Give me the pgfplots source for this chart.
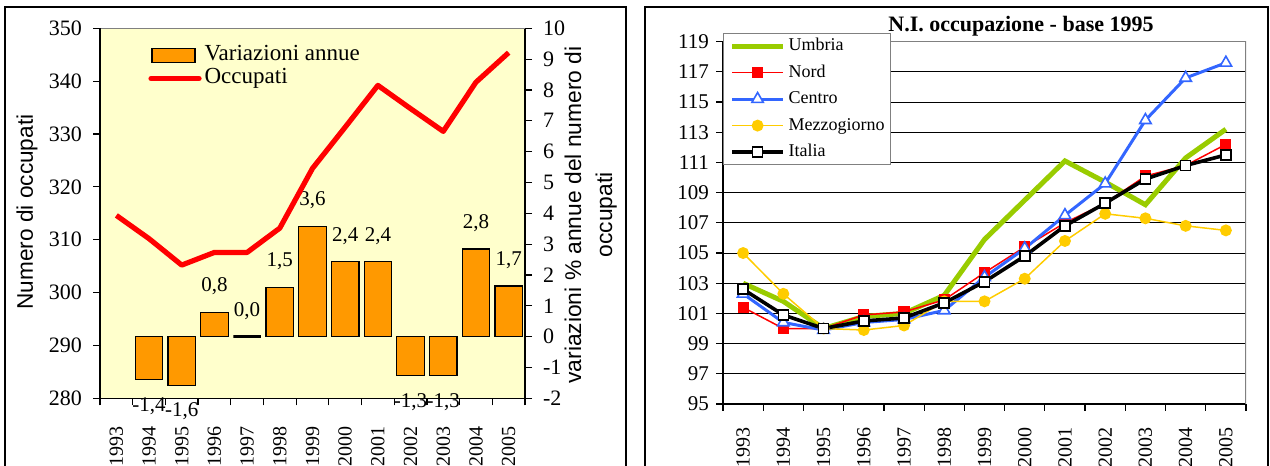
\documentclass[border=0pt]{standalone}
\usepackage{fontspec}
\setmainfont{Liberation Serif}
\setsansfont{Liberation Sans}
\usepackage{pgfplots}
\usepackage{pgfplotstable}
\pgfplotsset{compat=1.18}

\definecolor{bgyellow}{HTML}{FFFFCC}
\definecolor{barorange}{HTML}{FF9900}
\definecolor{umbria}{HTML}{99CC00}
\definecolor{nord}{HTML}{FF0000}
\definecolor{centro}{HTML}{3366FF}
\definecolor{mezzo}{HTML}{FFCC00}
\definecolor{bordergray}{HTML}{808080}

% occupati (migliaia), asse di sinistra
\pgfplotstableread{
x occ
0 314.6
1 310.2
2 305.2
3 307.6
4 307.6
5 312.2
6 323.5
7 331.3
8 339.2
9 334.8
10 330.5
11 339.8
12 345.4
}\occupati

% variazioni annue %, asse di destra (positive, nulle, negative)
\pgfplotstableread{
x var lab
3 0.79 0,8
5 1.59 1,5
6 3.57 3,6
7 2.43 2,4
8 2.43 2,4
11 2.84 2,8
12 1.64 1,7
}\varpos
\pgfplotstableread{
x var lab
4 0.0 0,0
}\varzero
\pgfplotstableread{
x var lab
1 -1.40 -1,4
2 -1.58 -1,6
9 -1.27 -1,3
10 -1.27 -1,3
}\varneg

% numeri indice, base 1995
\pgfplotstableread{
x umbria nord centro mezzo italia
0 103.0 101.4 102.3 105.0 102.6
1 101.8 100.0 100.4 102.3 100.9
2 100.0 100.0 99.9 100.0 100.0
3 100.8 100.9 100.4 99.9 100.5
4 101.0 101.1 100.6 100.2 100.7
5 102.2 101.9 101.2 101.8 101.7
6 105.9 103.7 103.4 101.8 103.1
7 108.5 105.4 105.3 103.3 104.8
8 111.1 107.0 107.5 105.8 106.8
9 109.7 108.3 109.6 107.6 108.3
10 108.2 110.1 113.8 107.3 109.9
11 111.3 110.8 116.6 106.8 110.8
12 113.2 112.2 117.6 106.5 111.5
}\indici

\pgfplotsset{
  yearaxis/.style={
    scale only axis,
    xmin=-0.5, xmax=12.5,
    xtick={-0.5,0.5,...,12.5},
    x tick label as interval,
    xticklabels={1993,1994,1995,1996,1997,1998,1999,2000,2001,2002,2003,2004,2005},
    xticklabel style={rotate=90, anchor=east, inner sep=0pt, font=\fontsize{10}{12}\selectfont},
    tick align=outside,
    major tick length=3.5pt,
    tick style={black, line width=0.6pt},
    axis line style={black, line width=0.6pt},
    /pgf/number format/assume math mode=true,
  },
  barstyle/.style={ybar, bar width=13.75pt, fill=barorange, draw=black, line width=0.6pt,
    nodes near coords, point meta=explicit symbolic,
    every node near coord/.append style={font=\fontsize{10.5}{12}\selectfont,
      inner xsep=0pt, inner ysep=8.7pt, black, line width=0pt}},
  boxlegend/.style={legend image code/.code={\draw[##1] (0pt,-3.5pt) rectangle (21.5pt,3.5pt);}},
  linelegend/.style={legend image code/.code={\draw[##1, line cap=round] (-0.5pt,0pt) -- (23.5pt,0pt);}},
}

\begin{document}
\begin{tikzpicture}
\clip (0,0) rectangle (635pt,233pt);
% cornici dei due pannelli
\draw[black, line width=0.8pt] (2.5pt,-5pt) rectangle (313pt,229.5pt);
\draw[black, line width=0.8pt] (322.5pt,-5pt) rectangle (634pt,229.5pt);

% ---- pannello sinistro: barre (asse destro) ----
\begin{axis}[
  yearaxis,
  at={(50pt,33.85pt)}, anchor=south west,
  width=212.5pt, height=185pt,
  ymin=-2, ymax=10,
  ytick={-2,-1,...,10},
  axis x line*=bottom, axis y line*=right,
  axis background/.style={fill=bgyellow},
  yticklabel style={font=\fontsize{11}{13}\selectfont},
  yticklabel shift=2pt,
  xticklabel shift=10.5pt,
  clip=false,
]
\addplot[barstyle, every node near coord/.append style={anchor=south}]
  table[x=x, y=var, meta=lab] {\varpos};
\addplot[barstyle, line width=1.5pt, every node near coord/.append style={anchor=south}]
  table[x=x, y=var, meta=lab] {\varzero};
\addplot[barstyle, every node near coord/.append style={anchor=north}]
  table[x=x, y=var, meta=lab] {\varneg};
\draw[bordergray, line width=0.5pt] (rel axis cs:0,1) -- (rel axis cs:1,1);
\end{axis}

% ---- pannello sinistro: occupati (asse sinistro) ----
\begin{axis}[
  yearaxis,
  at={(50pt,33.85pt)}, anchor=south west,
  width=212.5pt, height=185pt,
  ymin=280, ymax=350,
  ytick={280,290,...,350},
  axis x line=none, axis y line*=left,
  yticklabel style={font=\fontsize{11}{13}\selectfont},
  yticklabel shift=2pt,
  legend style={at={(rel axis cs:0.113,0.957)}, anchor=north west, draw=none, fill=none,
    font=\fontsize{11.5}{13}\selectfont, inner sep=0pt, row sep=0.5pt, column sep=1.5pt,
    nodes={inner sep=0pt, text height=8pt, text depth=3pt}},
  legend cell align=left,
]
\addlegendimage{fill=barorange, draw=black, line width=0.6pt, boxlegend}
\addlegendentry{Variazioni annue}
\addplot[nord, line width=2.6pt, line join=round, linelegend]
  table[x=x, y=occ] {\occupati};
\addlegendentry{Occupati}
\end{axis}

\node[rotate=90, font=\sffamily\fontsize{11.3}{13}\selectfont] at (13.5pt,127pt) {Numero di occupati};
\node[rotate=90, align=center, font=\sffamily\fontsize{11.4}{15.5}\selectfont] at (295.4pt,125.5pt)
  {variazioni \% annue del numero di\\occupati};

% ---- pannello destro: numeri indice ----
\begin{axis}[
  yearaxis,
  at={(361.5pt,31pt)}, anchor=south west,
  width=261.5pt, height=181.15pt,
  ymin=95, ymax=119,
  ytick={95,97,...,119},
  axis x line*=bottom, axis y line*=left,
  ymajorgrids, grid style={black, line width=0.5pt},
  yticklabel style={font=\fontsize{10.5}{12}\selectfont},
  xticklabel shift=8pt,
  legend style={at={(rel axis cs:0,1.024)}, anchor=north west, draw=bordergray, line width=0.6pt,
    fill=white, font=\fontsize{9}{10}\selectfont, inner xsep=3pt, inner ysep=2pt,
    row sep=4.75pt, column sep=1.5pt,
    nodes={inner sep=0pt, text height=6.5pt, text depth=2pt}},
  legend cell align=left,
  legend image code/.code={\draw[mark repeat=2, mark phase=2, #1]
    plot coordinates {(0pt,0pt) (12.75pt,0pt) (25.5pt,0pt)};},
]
\addplot[umbria, line width=2.5pt, no markers] table[x=x, y=umbria] {\indici};
\addlegendentry{Umbria}
\addplot[nord, line width=0.75pt, mark=square*, mark size=2.4pt,
  mark options={fill=nord, draw=nord, solid}] table[x=x, y=nord] {\indici};
\addlegendentry{Nord}
\addplot[centro, line width=1.5pt, mark=triangle*, mark size=3.3pt,
  mark options={fill=white, draw=centro, line width=0.8pt}] table[x=x, y=centro] {\indici};
\addlegendentry{Centro}
\addplot[mezzo, line width=0.75pt, mark=*, mark size=2.6pt,
  mark options={fill=mezzo, draw=mezzo}] table[x=x, y=mezzo] {\indici};
\addlegendentry{Mezzogiorno}
\addplot[black, line width=1.8pt, mark=square*, mark size=2.5pt,
  mark options={fill=white, draw=black, line width=0.8pt}] table[x=x, y=italia] {\indici};
\addlegendentry{Italia}
\draw[bordergray, line width=0.8pt] (rel axis cs:0,1) -- (rel axis cs:1,1) -- (rel axis cs:1,0);
\end{axis}

\node[font=\bfseries\fontsize{11}{13}\selectfont] at (510.5pt,220pt) {N.I. occupazione - base 1995};
\end{tikzpicture}
\end{document}
